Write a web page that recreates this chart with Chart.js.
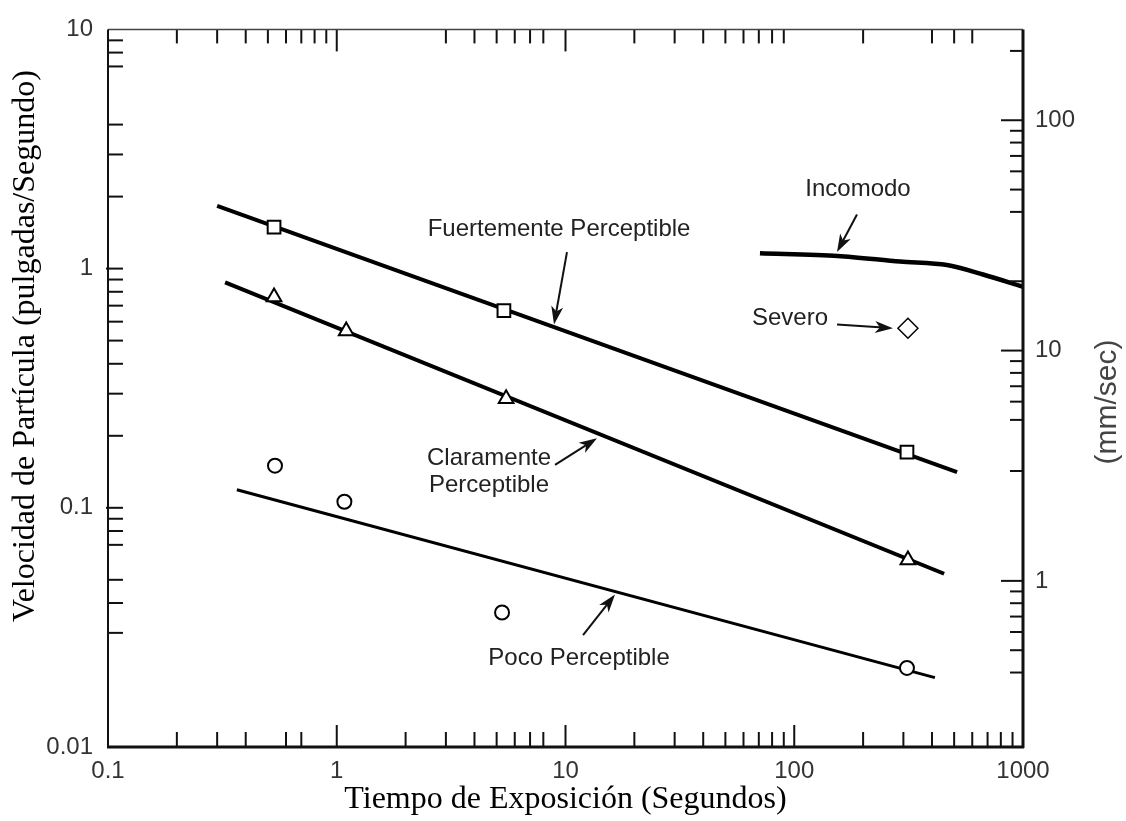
<!DOCTYPE html>
<html>
<head>
<meta charset="utf-8">
<script src="https://cdn.jsdelivr.net/npm/chart.js@4"></script>
<style>
  html, body { margin: 0; padding: 0; background: #fff; }
</style>
</head>
<body>
<canvas id="grafico" width="1126" height="821"></canvas>
<script>
// --- datos (x: segundos, y: pulgadas/segundo) ---
const fuerteLinea = [{ x: 0.3, y: 1.83 }, { x: 515, y: 0.141 }];
const fuertePuntos = [{ x: 0.532, y: 1.49 }, { x: 5.38, y: 0.668 }, { x: 311, y: 0.171 }];

const claraLinea = [{ x: 0.325, y: 0.875 }, { x: 452, y: 0.053 }];
const claraPuntos = [{ x: 0.532, y: 0.76 }, { x: 1.1, y: 0.548 }, { x: 5.5, y: 0.286 }, { x: 314, y: 0.0605 }];

const pocoLinea = [{ x: 0.366, y: 0.119 }, { x: 412, y: 0.0195 }];
const pocoPuntos = [{ x: 0.537, y: 0.15 }, { x: 1.08, y: 0.106 }, { x: 5.28, y: 0.0365 }, { x: 311, y: 0.0214 }];

const incomodoLinea = [
  { x: 70.8, y: 1.16 }, { x: 155, y: 1.13 }, { x: 290, y: 1.07 },
  { x: 465, y: 1.035 }, { x: 669, y: 0.945 }, { x: 1000, y: 0.84 }
];
const severoPunto = [{ x: 314, y: 0.563 }];

// ejes
const xEtiquetas = [0.1, 1, 10, 100, 1000];
const yEtiquetas = [0.01, 0.1, 1, 10];
const mmEtiquetas = [1, 10, 100];
const mmRango = [0.19, 248];

// marcas menores / mayores de cada lado
const xMenoresAbajo = [0.2, 0.3, 0.4, 0.6, 0.7, 2, 3, 4, 5, 6, 7, 8, 20, 30, 40, 50, 60, 70, 80, 90, 200, 300, 400, 500, 600, 700, 800, 900];
const xMayoresAbajo = [1, 10, 100];
const xMenoresArriba = [0.2, 0.3, 0.4, 0.5, 0.6, 0.7, 0.8, 0.9, 3, 4, 5, 6, 7, 8, 20, 30, 40, 50, 60, 70, 80, 90, 200, 400, 500, 600];
const xMayoresArriba = [1, 10];
const yMenores = [9, 8, 7, 4, 3, 2, 0.9, 0.8, 0.7, 0.6, 0.5, 0.4, 0.3, 0.2, 0.09, 0.08, 0.07, 0.05, 0.04, 0.03];
const yMayores = [1, 0.1];
const mmMenores = [200, 90, 80, 70, 60, 50, 40, 20, 9, 8, 7, 6, 5, 3, 0.9, 0.8, 0.7, 0.6, 0.5, 0.4];
const mmMayores = [100, 10, 1];

// textos y flechas (en unidades de los ejes)
const notas = [
  { t: 'Fuertemente Perceptible', x: 9.37, y: 1.46 },
  { t: 'Claramente', x: 4.63, y: 0.1616 },
  { t: 'Perceptible', x: 4.63, y: 0.1237 },
  { t: 'Poco Perceptible', x: 11.46, y: 0.0234 },
  { t: 'Incomodo', x: 190, y: 2.14 },
  { t: 'Severo', x: 95.8, y: 0.619 }
];
const flechas = [
  [10.15, 1.172, 8.91, 0.5845],
  [9.0, 0.1511, 13.73, 0.1954],
  [11.93, 0.02935, 16.46, 0.04337],
  [188, 1.684, 153.8, 1.172],
  [153.8, 0.5845, 270, 0.5629]
];

const sans = "'Liberation Sans', Arial, sans-serif";
const serif = "'Liberation Serif', 'Times New Roman', serif";

const marco = {
  id: 'marco',
  afterDraw(chart) {
    const ctx = chart.ctx;
    const { left, right, top, bottom } = chart.chartArea;
    const x = chart.scales.x, y = chart.scales.y, y2 = chart.scales.y2;

    ctx.save();
    ctx.strokeStyle = '#111';
    ctx.lineWidth = 2;
    const linea = (a, b, c, d) => { ctx.beginPath(); ctx.moveTo(a, b); ctx.lineTo(c, d); ctx.stroke(); };

    xMenoresAbajo.forEach(v => { const p = x.getPixelForValue(v); linea(p, bottom, p, bottom - 15); });
    xMayoresAbajo.forEach(v => { const p = x.getPixelForValue(v); linea(p, bottom, p, bottom - 22); });
    xMenoresArriba.forEach(v => { const p = x.getPixelForValue(v); linea(p, top, p, top + 14); });
    xMayoresArriba.forEach(v => { const p = x.getPixelForValue(v); linea(p, top, p, top + 22); });
    yMenores.forEach(v => { const p = y.getPixelForValue(v); linea(left, p, left + 15, p); });
    yMayores.forEach(v => { const p = y.getPixelForValue(v); linea(left - 2, p, left + 15, p); });
    mmMenores.forEach(v => { const p = y2.getPixelForValue(v); linea(right, p, right - 13, p); });
    mmMayores.forEach(v => { const p = y2.getPixelForValue(v); linea(right, p, right - 22, p); });

    // marco
    ctx.lineWidth = 1.5; ctx.strokeStyle = '#444';
    linea(left, top, right, top);
    ctx.strokeStyle = '#111';
    ctx.lineWidth = 2; linea(left, top, left, bottom + 1);
    ctx.lineWidth = 3; linea(left - 1, bottom, right + 1, bottom);
    linea(right, top, right, bottom + 1);

    // anotaciones
    ctx.fillStyle = '#222';
    ctx.font = '24px ' + sans;
    ctx.textAlign = 'center';
    ctx.textBaseline = 'middle';
    notas.forEach(n => ctx.fillText(n.t, x.getPixelForValue(n.x), y.getPixelForValue(n.y)));

    ctx.strokeStyle = '#111';
    ctx.fillStyle = '#111';
    ctx.lineWidth = 2;
    flechas.forEach(f => {
      const x1 = x.getPixelForValue(f[0]), y1 = y.getPixelForValue(f[1]);
      const x2 = x.getPixelForValue(f[2]), y2p = y.getPixelForValue(f[3]);
      const ang = Math.atan2(y2p - y1, x2 - x1);
      const c = Math.cos(ang), s = Math.sin(ang);
      linea(x1, y1, x2 - 10 * c, y2p - 10 * s);
      ctx.beginPath();
      ctx.moveTo(x2, y2p);
      ctx.lineTo(x2 - 18 * c + 6 * s, y2p - 18 * s - 6 * c);
      ctx.lineTo(x2 - 13 * c, y2p - 13 * s);
      ctx.lineTo(x2 - 18 * c - 6 * s, y2p - 18 * s + 6 * c);
      ctx.closePath();
      ctx.fill();
    });

    // titulos verticales
    ctx.fillStyle = '#000';
    ctx.font = '32px ' + serif;
    ctx.translate(26, 346);
    ctx.rotate(-Math.PI / 2);
    ctx.fillText('Velocidad de Partícula (pulgadas/Segundo)', 0, 0);
    ctx.setTransform(1, 0, 0, 1, 0, 0);
    ctx.fillStyle = '#444';
    ctx.font = '30px ' + sans;
    ctx.translate(1108, 402);
    ctx.rotate(-Math.PI / 2);
    ctx.fillText('(mm/sec)', 0, 0);
    ctx.restore();
  }
};

const linea = (data, w, t) => ({
  data, showLine: true, pointRadius: 0, borderColor: '#000', borderWidth: w,
  backgroundColor: '#000', tension: t || 0, order: 2
});
const puntos = (data, estilo, r, w) => ({
  data, showLine: false, pointStyle: estilo, pointRadius: r, borderWidth: w,
  borderColor: '#000', backgroundColor: '#fff', order: 1
});

const tickFont = { family: sans, size: 24 };

new Chart(document.getElementById('grafico'), {
  type: 'scatter',
  data: {
    datasets: [
      linea(fuerteLinea, 4),
      linea(claraLinea, 4),
      linea(pocoLinea, 3),
      linea(incomodoLinea, 4.5, 0.3),
      puntos(fuertePuntos, 'rect', 9, 2),
      puntos(claraPuntos, 'triangle', 8.5, 2),
      puntos(pocoPuntos, 'circle', 7, 2),
      puntos(severoPunto, 'rectRot', 10, 1.5)
    ]
  },
  options: {
    responsive: false,
    animation: false,
    devicePixelRatio: 1,
    layout: { padding: { top: 22, left: 0, right: 0, bottom: 0 } },
    plugins: { legend: { display: false }, tooltip: { enabled: false } },
    scales: {
      x: {
        type: 'logarithmic', min: 0.1, max: 1000,
        grid: { display: false, drawTicks: false },
        border: { display: false },
        afterBuildTicks: s => { s.ticks = xEtiquetas.map(v => ({ value: v })); },
        afterFit: s => { s.height = 74; },
        ticks: { autoSkip: false, maxRotation: 0, padding: 10, color: '#333', font: tickFont, callback: v => String(v) },
        title: { display: true, text: 'Tiempo de Exposición (Segundos)', color: '#000', font: { family: serif, size: 32 }, padding: { top: 0, bottom: 2 } }
      },
      y: {
        type: 'logarithmic', position: 'left', min: 0.01, max: 10,
        grid: { display: false, drawTicks: false },
        border: { display: false },
        afterBuildTicks: s => { s.ticks = yEtiquetas.map(v => ({ value: v })); },
        afterFit: s => { s.width = 108; },
        ticks: { autoSkip: false, padding: 15, color: '#333', font: tickFont, callback: v => String(v) }
      },
      y2: {
        type: 'logarithmic', position: 'right', min: mmRango[0], max: mmRango[1],
        grid: { display: false, drawTicks: false },
        border: { display: false },
        afterBuildTicks: s => { s.ticks = mmEtiquetas.map(v => ({ value: v })); },
        afterFit: s => { s.width = 103; },
        ticks: { autoSkip: false, padding: 12, color: '#333', font: tickFont, callback: v => String(v) }
      }
    }
  },
  plugins: [marco]
});
</script>
</body>
</html>
